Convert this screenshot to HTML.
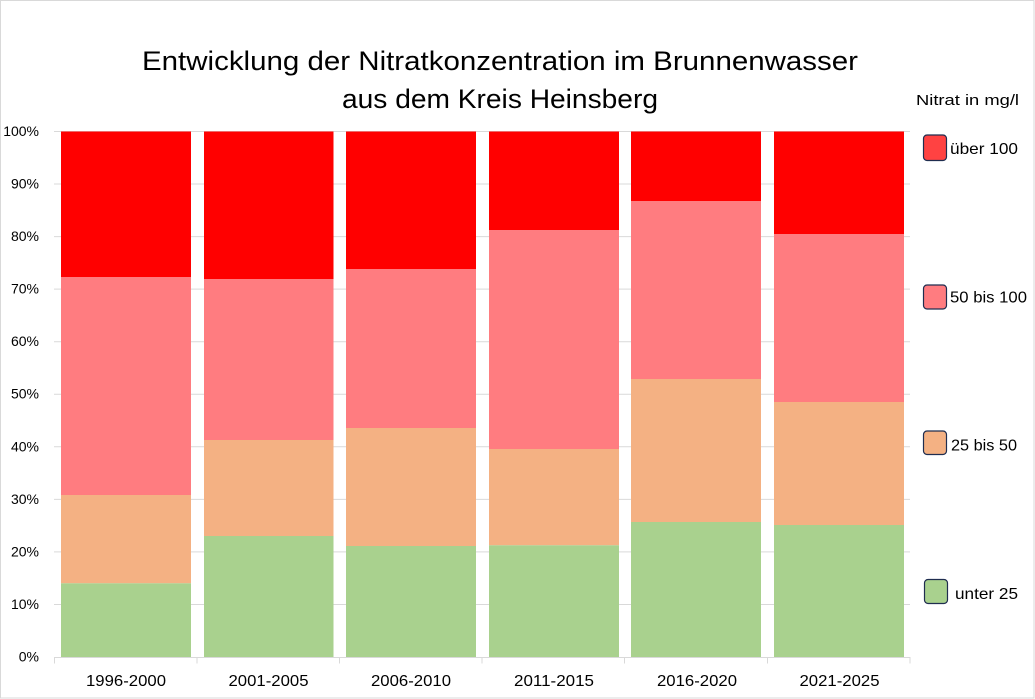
<!DOCTYPE html>
<html><head><meta charset="utf-8"><style>
html,body{margin:0;padding:0;background:#fff;}
svg{display:block;}
text{font-family:"Liberation Sans",sans-serif;fill:#000;}
</style></head><body>
<svg width="1035" height="699" viewBox="0 0 1035 699" xmlns="http://www.w3.org/2000/svg">
<rect x="0.5" y="0.5" width="1033.5" height="697.5" fill="#fff" stroke="#D9D9D9" stroke-width="1"/>
<!-- title -->
<text x="142" y="70" font-size="27" textLength="716" lengthAdjust="spacingAndGlyphs">Entwicklung der Nitratkonzentration im Brunnenwasser</text>
<text x="342" y="108" font-size="27" textLength="316" lengthAdjust="spacingAndGlyphs">aus dem Kreis Heinsberg</text>
<!-- gridlines -->
<g stroke="#D9D9D9" stroke-width="1">
<line x1="54" x2="910" y1="131.5" y2="131.5"/>
<line x1="54" x2="910" y1="184.05" y2="184.05"/>
<line x1="54" x2="910" y1="236.6" y2="236.6"/>
<line x1="54" x2="910" y1="289.15" y2="289.15"/>
<line x1="54" x2="910" y1="341.7" y2="341.7"/>
<line x1="54" x2="910" y1="394.25" y2="394.25"/>
<line x1="54" x2="910" y1="446.8" y2="446.8"/>
<line x1="54" x2="910" y1="499.35" y2="499.35"/>
<line x1="54" x2="910" y1="551.9" y2="551.9"/>
<line x1="54" x2="910" y1="604.45" y2="604.45"/>
</g>
<!-- y labels -->
<g font-size="14" text-anchor="end">
<text x="39" y="136">100%</text>
<text x="39" y="188.5">90%</text>
<text x="39" y="241">80%</text>
<text x="39" y="293.6">70%</text>
<text x="39" y="346.2">60%</text>
<text x="39" y="398.7">50%</text>
<text x="39" y="451.3">40%</text>
<text x="39" y="503.8">30%</text>
<text x="39" y="556.4">20%</text>
<text x="39" y="608.9">10%</text>
<text x="39" y="661.5">0%</text>
</g>
<!-- bars -->
<g>
<rect x="61" y="131.5" width="130" height="145.5" fill="#FF0000"/>
<rect x="61" y="277" width="130" height="218" fill="#FF7C80"/>
<rect x="61" y="495" width="130" height="88.3" fill="#F4B183"/>
<rect x="61" y="583.3" width="130" height="73.7" fill="#A9D18E"/>

<rect x="204" y="131.5" width="129.5" height="147.5" fill="#FF0000"/>
<rect x="204" y="279" width="129.5" height="161" fill="#FF7C80"/>
<rect x="204" y="440" width="129.5" height="96" fill="#F4B183"/>
<rect x="204" y="536" width="129.5" height="121" fill="#A9D18E"/>

<rect x="346" y="131.5" width="130" height="137.5" fill="#FF0000"/>
<rect x="346" y="269" width="130" height="159" fill="#FF7C80"/>
<rect x="346" y="428" width="130" height="118" fill="#F4B183"/>
<rect x="346" y="546" width="130" height="111" fill="#A9D18E"/>

<rect x="489" y="131.5" width="130" height="98.5" fill="#FF0000"/>
<rect x="489" y="230" width="130" height="219" fill="#FF7C80"/>
<rect x="489" y="449" width="130" height="96.3" fill="#F4B183"/>
<rect x="489" y="545.3" width="130" height="111.7" fill="#A9D18E"/>

<rect x="631" y="131.5" width="130" height="69.5" fill="#FF0000"/>
<rect x="631" y="201" width="130" height="178" fill="#FF7C80"/>
<rect x="631" y="379" width="130" height="143" fill="#F4B183"/>
<rect x="631" y="522" width="130" height="135" fill="#A9D18E"/>

<rect x="774" y="131.5" width="130" height="102.5" fill="#FF0000"/>
<rect x="774" y="234" width="130" height="168" fill="#FF7C80"/>
<rect x="774" y="402" width="130" height="123" fill="#F4B183"/>
<rect x="774" y="525" width="130" height="132" fill="#A9D18E"/>
</g>
<!-- x axis -->
<g stroke="#D9D9D9" stroke-width="1">
<line x1="54" x2="910.5" y1="657.5" y2="657.5"/>
<line x1="54.5" x2="54.5" y1="657" y2="663.5"/>
<line x1="197" x2="197" y1="657" y2="663.5"/>
<line x1="339.5" x2="339.5" y1="657" y2="663.5"/>
<line x1="482" x2="482" y1="657" y2="663.5"/>
<line x1="624.5" x2="624.5" y1="657" y2="663.5"/>
<line x1="767.5" x2="767.5" y1="657" y2="663.5"/>
<line x1="910" x2="910" y1="657" y2="663.5"/>
</g>
<g font-size="16">
<text x="86" y="686" textLength="80" lengthAdjust="spacingAndGlyphs">1996-2000</text>
<text x="228.5" y="686" textLength="80" lengthAdjust="spacingAndGlyphs">2001-2005</text>
<text x="371" y="686" textLength="80" lengthAdjust="spacingAndGlyphs">2006-2010</text>
<text x="514" y="686" textLength="80" lengthAdjust="spacingAndGlyphs">2011-2015</text>
<text x="657" y="686" textLength="80" lengthAdjust="spacingAndGlyphs">2016-2020</text>
<text x="799.5" y="686" textLength="80" lengthAdjust="spacingAndGlyphs">2021-2025</text>
</g>
<!-- legend -->
<text x="916" y="105" font-size="15" textLength="103" lengthAdjust="spacingAndGlyphs">Nitrat in mg/l</text>
<g stroke="#1F2D4F" stroke-width="1.2">
<rect x="923.5" y="135" width="23" height="25.5" rx="3.5" fill="#FF4242"/>
<rect x="923.5" y="285" width="23" height="24" rx="3.5" fill="#FF7C80"/>
<rect x="923.5" y="431" width="23" height="23.5" rx="3.5" fill="#F4B183"/>
<rect x="924.5" y="579.5" width="23" height="24" rx="3.5" fill="#A9D18E"/>
</g>
<g font-size="16">
<text x="950" y="154" textLength="68" lengthAdjust="spacingAndGlyphs">über 100</text>
<text x="950" y="302.7" textLength="77" lengthAdjust="spacingAndGlyphs">50 bis 100</text>
<text x="951" y="450.7" textLength="66" lengthAdjust="spacingAndGlyphs">25 bis 50</text>
<text x="955" y="599" textLength="63" lengthAdjust="spacingAndGlyphs">unter 25</text>
</g>
</svg>
</body></html>
